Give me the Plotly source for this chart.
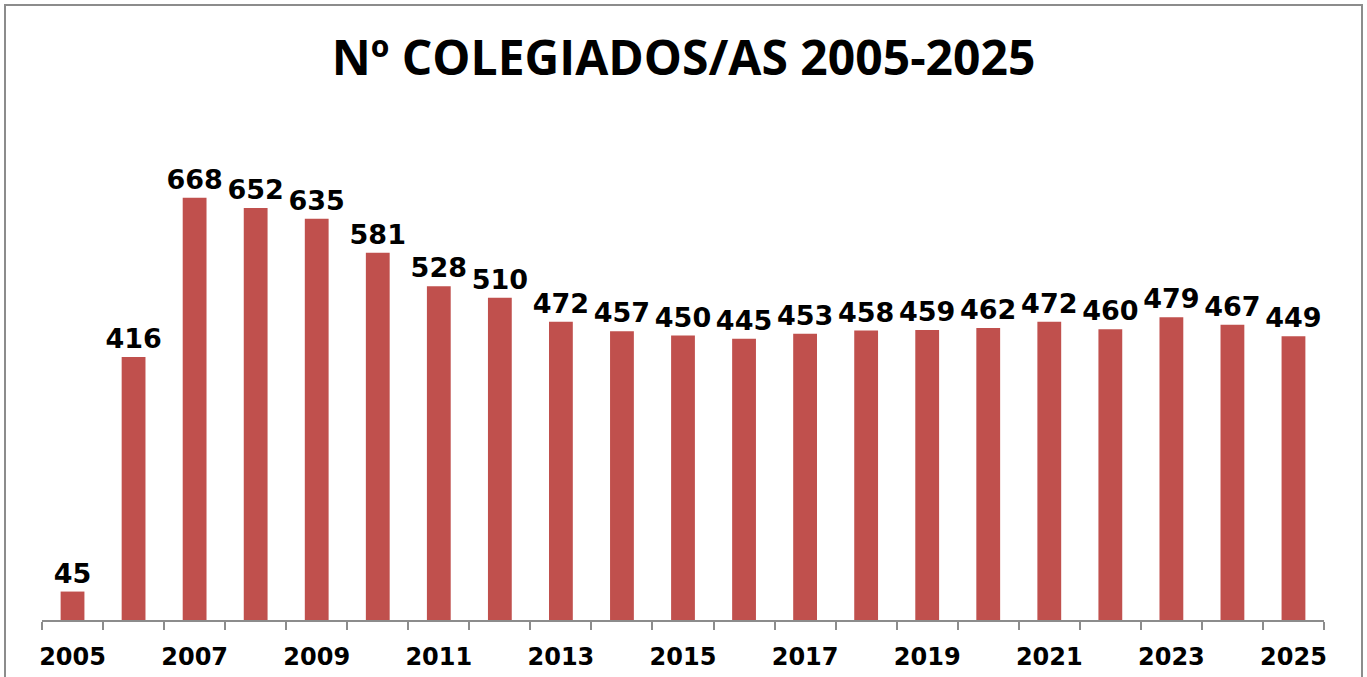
import plotly.graph_objects as go

years = list(range(2005, 2026))
values = [45, 416, 668, 652, 635, 581, 528, 510, 472, 457, 450, 445, 453, 458, 459, 462, 472, 460, 479, 467, 449]
tick_years = [y for y in years if (y - 2005) % 2 == 0]
tick_labels = [str(y) for y in tick_years]
boundaries = [y - 0.5 for y in years] + [years[-1] + 0.5]

BAR = "#C0504D"
W, H = 1367, 677
L, R, T, B = 42, 43, 150, 57
pw = W - L - R
ph = H - T - B

fig = go.Figure()
fig.add_trace(go.Bar(
    x=years, y=values, marker=dict(color=BAR, line=dict(width=0)),
    width=0.39, text=[str(v) for v in values], textposition="outside",
    textangle=0, constraintext="none",
    textfont=dict(family="DejaVu Sans", size=27, color="black", weight="bold"),
    cliponaxis=False, showlegend=False,
))
# invisible trace for the boundary tick axis
fig.add_trace(go.Scatter(x=[years[0]], y=[0], xaxis="x2", mode="markers",
                         marker=dict(opacity=0), showlegend=False, hoverinfo="skip"))

fig.update_layout(
    width=W, height=H,
    margin=dict(l=L, r=R, t=T, b=B, autoexpand=False),
    paper_bgcolor="white", plot_bgcolor="white",
    uniformtext=dict(mode=False),
    title=dict(text="Nº COLEGIADOS/AS 2005-2025", x=0.5, xanchor="center",
               y=1 - 58 / H, yanchor="middle",
               font=dict(family="Open Sans", size=48, color="black", weight="bold")),
    xaxis=dict(range=[2004.5, 2025.5], tickvals=tick_years, ticktext=tick_labels,
               ticks="outside", ticklen=15, tickcolor="rgba(0,0,0,0)", automargin=False,
               showline=False, showgrid=False, zeroline=False,
               tickfont=dict(family="DejaVu Sans", size=24, color="black", weight="bold")),
    xaxis2=dict(range=[2004.5, 2025.5], overlaying="x", side="bottom",
                tickvals=boundaries, showticklabels=False, ticks="outside",
                ticklen=8, tickwidth=2, tickcolor="#8c8c8c", automargin=False,
                showline=True, linecolor="#8c8c8c", linewidth=2,
                showgrid=False, zeroline=False, anchor="y"),
    yaxis=dict(range=[0, ph / 0.632], visible=False, showgrid=False, zeroline=False,
               automargin=False),
    bargap=0.6,
)
# outer chart border
fig.add_shape(type="rect", xref="paper", yref="paper",
              x0=(5 - L) / pw, x1=(1362 - L) / pw,
              y0=(H - B - 700) / ph, y1=(H - B - 5) / ph,
              line=dict(color="#8c8c8c", width=2), fillcolor="rgba(0,0,0,0)", layer="below")

fig.write_html("out.html", config={"displayModeBar": False},
               post_script="document.body.style.margin='0';document.body.style.overflow='hidden';")
